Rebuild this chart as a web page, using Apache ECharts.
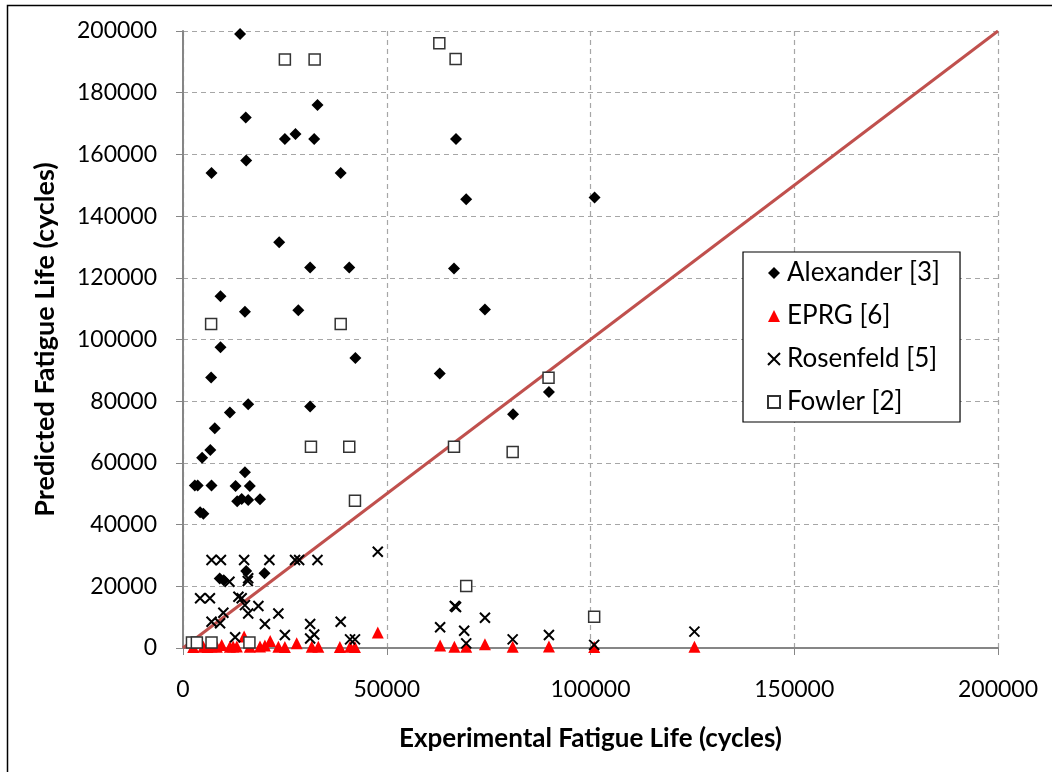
<!DOCTYPE html>
<html><head><meta charset="utf-8">
<script src="https://cdn.jsdelivr.net/npm/echarts@6/dist/echarts.min.js"></script>
<style>html,body{margin:0;padding:0;background:#fff}#c{width:1052px;height:772px}</style>
</head><body><div id="c"></div>
<script>
const seriesNames = ['Alexander [3]', 'EPRG [6]', 'Rosenfeld [5]', 'Fowler [2]'];
const xAxisTitle = 'Experimental Fatigue Life (cycles)';
const yAxisTitle = 'Predicted Fatigue Life (cycles)';
const xTickStep = 50000, yTickStep = 20000, axisMax = 200000;

const alexX = [14000,15400,33000,25000,27600,32200,15500,7000,38700,23600,67000,69500,101000,31200,40800,66500,9200,15200,28300,74100,9200,42300,63000,6900,89800,16000,31200,81000,11500,7800,6700,4700,15200,2900,3600,7000,12900,16400,4200,5000,13300,14400,16000,18900,9000,10000,15500,20000];
const alexY = [199000,172000,176000,165000,166600,165000,158000,154000,154000,131500,165000,145500,146000,123300,123300,123000,114000,109000,109500,109700,97500,94000,89000,87700,83000,79000,78300,75800,76300,71200,64200,61700,57000,52700,52700,52700,52500,52500,44000,43500,47600,48300,48000,48200,22500,22000,25000,24200];

const eprgX = [2500,5000,6000,7000,8300,9500,11500,12300,13200,15000,16400,18900,20100,21400,23400,25000,27900,31600,33200,38500,41000,42200,47800,63100,66600,69500,74100,80900,89800,100900,125500];
const eprgY = [300,400,300,500,400,1000,400,500,500,3700,400,500,800,2300,400,300,1500,400,400,300,400,300,5000,800,400,400,1200,400,500,300,400];

const rosX = [7000,9300,15000,21200,27500,28500,33000,47800,11400,15900,16000,4200,6600,13600,14400,15200,18500,16000,23400,9900,7000,9100,20100,31200,38700,12800,25000,31200,32200,41000,42200,63100,66700,67000,69000,69500,74100,80900,89800,100900,125500];
const rosY = [28500,28500,28500,28500,28500,28500,28500,31200,21500,21700,22600,16100,16100,16600,16100,13900,13600,11200,11200,11400,8500,8000,7800,7800,8500,3500,4200,3100,4400,2800,2800,6700,13600,13300,5600,1500,9800,2800,4200,1000,5300];

const fowX = [25000,32300,62900,66900,6900,38700,31400,40800,42200,89700,66500,80900,69500,100900,2200,3400,7000,16300];
const fowY = [190800,190800,196000,190900,105000,105000,65200,65200,47700,87600,65200,63500,20100,10100,1800,1800,1800,1800];

const lineX = [0, 200000];
const lineY = [0, 200000];

const zip = (a, b) => a.map((v, i) => [v, b[i]]);
const FONT = 'Lato';
const xPath = 'path://M0,0L10,10M10,0L0,10';

const chart = echarts.init(document.getElementById('c'));
chart.setOption({
  animation: false,
  backgroundColor: '#fff',
  graphic: [{ type: 'rect', shape: { x: 7.5, y: 5.5, width: 1200, height: 1000 }, style: { fill: 'none', stroke: '#000', lineWidth: 1.5 }, z: -1 }],
  grid: { left: 183, top: 31, right: 54, bottom: 124 },
  legend: {
    data: seriesNames, orient: 'vertical', left: 743, top: 252,
    borderColor: '#000', borderWidth: 1.2, backgroundColor: '#fff',
    padding: [8, 20, 7, 24], itemGap: 17, itemWidth: 12, itemHeight: 12,
    textStyle: { fontFamily: FONT, fontSize: 26, color: '#000', padding: [0, 0, 0, 2] }
  },
  xAxis: {
    type: 'value', min: 0, max: axisMax, interval: xTickStep,
    name: xAxisTitle, nameLocation: 'middle', nameGap: 78,
    nameTextStyle: { fontFamily: FONT, fontSize: 26, fontWeight: 'bold', color: '#000' },
    axisLine: { lineStyle: { color: '#868686', width: 2 } },
    axisTick: { show: true, length: 7, lineStyle: { color: '#868686' } },
    axisLabel: { fontFamily: FONT, fontSize: 23, color: '#000', margin: 30, formatter: v => String(v) },
    splitLine: { show: true, lineStyle: { color: '#a6a6a6', type: [5, 4], width: 1.2 } }
  },
  yAxis: {
    type: 'value', min: 0, max: axisMax, interval: yTickStep,
    name: yAxisTitle, nameLocation: 'middle', nameGap: 124,
    nameTextStyle: { fontFamily: FONT, fontSize: 27, fontWeight: 'bold', color: '#000' },
    axisLine: { show: true, lineStyle: { color: '#868686', width: 2 } },
    axisTick: { show: true, length: 7, lineStyle: { color: '#868686' } },
    axisLabel: { fontFamily: FONT, fontSize: 23, color: '#000', margin: 26, formatter: v => String(v) },
    splitLine: { show: true, lineStyle: { color: '#a6a6a6', type: [5, 4], width: 1.2 } }
  },
  series: [
    { name: 'line', type: 'line', data: zip(lineX, lineY), symbol: 'none', lineStyle: { color: '#c0504d', width: 3 }, z: 1, silent: true },
    { name: seriesNames[0], type: 'scatter', data: zip(alexX, alexY), symbol: 'diamond', symbolSize: 12, itemStyle: { color: '#000', opacity: 1 }, z: 2 },
    { name: seriesNames[1], type: 'scatter', data: zip(eprgX, eprgY), symbol: 'triangle', symbolSize: 12, itemStyle: { color: '#ff0000', opacity: 1 }, z: 3 },
    { name: seriesNames[2], type: 'scatter', data: zip(rosX, rosY), symbol: xPath, symbolSize: 10, itemStyle: { color: 'rgba(0,0,0,0)', borderColor: '#000', borderWidth: 2, opacity: 1 }, z: 4 },
    { name: seriesNames[3], type: 'scatter', data: zip(fowX, fowY), symbol: 'rect', symbolSize: 11, itemStyle: { color: '#fff', borderColor: '#333', borderWidth: 1.5, opacity: 1 }, z: 5 }
  ]
});
</script></body></html>
